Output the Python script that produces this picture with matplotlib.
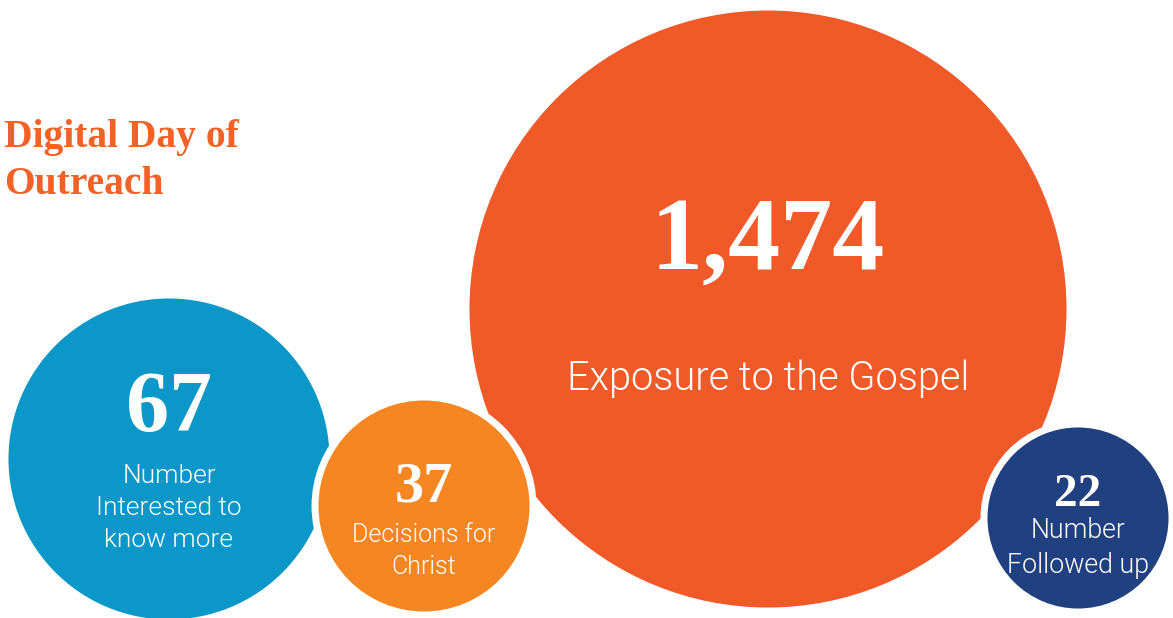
import matplotlib
matplotlib.use("Agg")
import matplotlib.pyplot as plt
from matplotlib.patches import Circle

# values and labels shown in the bubbles
values = ["1,474", "67", "37", "22"]
labels = ["Exposure to the Gospel", "Number\nInterested to\nknow more", "Decisions for\nChrist", "Number\nFollowed up"]
colors = ["#F05A28", "#0B97C7", "#F58621", "#21407F"]

# layout of the bubbles (pixels, y down)
cx = [768, 169, 424, 1078]
cy = [309, 459, 506, 518]
radius = [302, 164, 109, 94]
num_size = [75, 62, 42, 34]
num_dy = [-65, -48, -18, -23]
lab_size = [28.6, 19, 18, 19.3]
lab_dy = [70, 49, 45, 30]

title = "Digital Day of\nOutreach"

fig = plt.figure(figsize=(11.73, 6.18), dpi=100)
ax = fig.add_axes([0, 0, 1, 1])
ax.set_xlim(0, 1173)
ax.set_ylim(618, 0)
ax.set_aspect("equal")
ax.axis("off")

for i in range(len(values)):
    ax.add_patch(Circle((cx[i], cy[i]), radius[i], facecolor=colors[i],
                        edgecolor="white", linewidth=5, zorder=i + 1))
    ax.text(cx[i], cy[i] + num_dy[i], values[i], color="white", ha="center", va="center",
            fontsize=num_size[i], fontweight="bold", family="Liberation Serif", zorder=10)
    ax.text(cx[i], cy[i] + lab_dy[i], labels[i], color="white", ha="center", va="center",
            fontsize=lab_size[i], fontweight=300, family=["Roboto", "Lato"], linespacing=1.4, zorder=10)

ax.text(4, 161, title, color="#F26125", ha="left", va="center", fontsize=28.5,
        fontweight="bold", family="Liberation Serif", linespacing=1.36)

fig.savefig("out.png", dpi=100)
